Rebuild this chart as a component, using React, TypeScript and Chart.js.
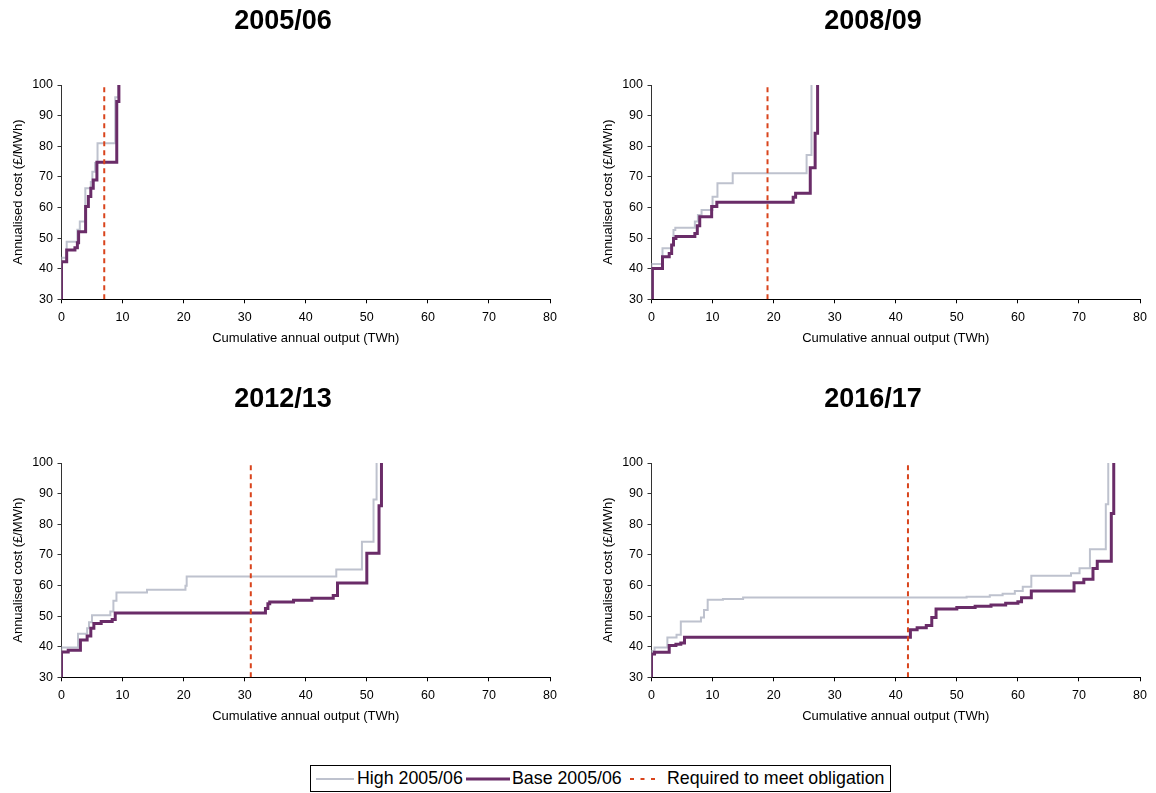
import { useEffect, useRef } from "react";
import { Chart, registerables } from "chart.js";

Chart.register(...registerables);

const FONT = "'Liberation Sans', Arial, Helvetica, sans-serif";

// Axis ranges and tick steps
const xRange = [0, 80];
const yRange = [30, 100];
const xStep = 10;
const yStep = 10;

const panelTitles = ["2005/06", "2008/09", "2012/13", "2016/17"];
const seriesLabels = ["High 2005/06", "Base 2005/06", "Required to meet obligation"];
const xAxisTitle = "Cumulative annual output (TWh)";
const yAxisTitle = "Annualised cost (£/MWh)";

// Output (TWh) required to meet the obligation in each year
const obligationTWh = [7.0, 19.0, 31.0, 42.0];

// Supply curves: each point is (cumulative TWh where the step starts, cost £/MWh)
// 2005/06
const high0506X = [0, 0, 0.85, 2.6, 3.0, 3.9, 4.8, 5.05, 5.5, 5.9, 8.8, 9.3];
const high0506Y = [30, 43.6, 48.8, 52.7, 55.4, 66.3, 68.3, 71.7, 74.5, 81.0, 96.0, 100];
const base0506X = [0, 0, 0.85, 2.2, 2.6, 2.8, 3.95, 4.4, 4.8, 5.2, 5.8, 9.05, 9.4];
const base0506Y = [30, 42.3, 46.1, 46.8, 48.5, 52.1, 60.3, 63.6, 66.3, 69.0, 74.8, 94.6, 100];

// 2008/09
const high0809X = [0, 0, 1.8, 3.3, 3.6, 3.9, 7.1, 7.6, 8.2, 10.0, 10.8, 13.3, 25.4, 26.2];
const high0809Y = [30, 41.5, 46.7, 47.7, 52.6, 53.4, 55.4, 57.5, 59.2, 63.5, 67.9, 71.2, 77.1, 100];
const base0809X = [0.15, 0.15, 1.8, 2.9, 3.3, 3.6, 4.0, 7.1, 7.5, 7.9, 9.85, 10.7, 23.2, 23.6, 26.0, 26.8, 27.2];
const base0809Y = [30, 40.1, 43.9, 45.0, 47.7, 49.9, 50.5, 51.5, 54.0, 57.0, 60.3, 61.7, 63.3, 64.6, 73.0, 84.2, 100];

// 2012/13
const high1213X = [0, 0, 2.7, 4.2, 4.5, 5.0, 8.0, 8.5, 9.0, 14.0, 20.3, 20.5, 45.0, 49.2, 51.1, 51.6];
const high1213Y = [30, 39.7, 44.2, 46.0, 48.0, 50.3, 51.5, 55.0, 57.7, 58.6, 59.9, 62.9, 65.2, 74.3, 88.1, 100];
const base1213X = [0, 0, 1.1, 3.1, 4.2, 4.8, 5.3, 6.5, 8.3, 8.8, 33.4, 33.8, 34.1, 38.0, 41.0, 44.5, 45.2, 50.0, 52.0, 52.4];
const base1213Y = [30, 38.3, 38.8, 42.2, 43.5, 46.0, 47.6, 48.2, 48.9, 51.0, 52.5, 54.0, 54.6, 55.2, 55.8, 56.7, 60.8, 70.5, 86.0, 100];

// 2016/17
const high1617X = [0, 0, 0.5, 2.6, 4.1, 4.8, 8.1, 8.6, 9.2, 11.7, 15.0, 51.6, 55.4, 57.5, 59.5, 60.8, 62.2, 68.7, 70.1, 71.8, 74.4, 74.8];
const high1617Y = [30, 38.6, 39.7, 43.0, 43.9, 48.2, 49.5, 52.0, 55.3, 55.6, 56.1, 56.3, 56.8, 57.3, 58.2, 59.6, 63.2, 64.0, 65.6, 71.8, 86.5, 100];
const base1617X = [0, 0, 0.5, 2.9, 4.0, 4.8, 5.4, 42.4, 43.5, 45.0, 45.9, 46.6, 50.0, 53.0, 55.6, 58.0, 60.0, 60.6, 62.2, 69.2, 70.8, 72.3, 73.0, 75.3, 75.7];
const base1617Y = [30, 37.6, 38.2, 40.4, 40.8, 41.2, 43.1, 45.5, 46.2, 46.9, 49.5, 52.3, 52.8, 53.2, 53.6, 54.2, 54.7, 56.0, 58.2, 60.9, 62.0, 65.5, 67.9, 83.5, 100];

const highX = [high0506X, high0809X, high1213X, high1617X];
const highY = [high0506Y, high0809Y, high1213Y, high1617Y];
const baseX = [base0506X, base0809X, base1213X, base1617X];
const baseY = [base0506Y, base0809Y, base1213Y, base1617Y];

const HIGH_COLOR = "#BEC2CE";
const BASE_COLOR = "#6A2C68";
const REQ_COLOR = "#D9441C";

const CANVAS_W = 566;
const CANVAS_H = 360;

const zip = (xs: number[], ys: number[]) => xs.map((x, i) => ({ x, y: ys[i] }));

function Panel({ idx, left, top }: { idx: number; left: number; top: number }) {
  const ref = useRef<HTMLCanvasElement>(null);

  useEffect(() => {
    const req = obligationTWh[idx];
    const chart = new Chart(ref.current!, {
      type: "line",
      data: {
        datasets: [
          {
            label: seriesLabels[0],
            data: zip(highX[idx], highY[idx]),
            borderColor: HIGH_COLOR,
            borderWidth: 2,
            stepped: true,
            pointRadius: 0,
            fill: false,
            order: 3,
          },
          {
            label: seriesLabels[1],
            data: zip(baseX[idx], baseY[idx]),
            borderColor: BASE_COLOR,
            borderWidth: 3,
            stepped: true,
            pointRadius: 0,
            fill: false,
            order: 2,
          },
          {
            label: seriesLabels[2],
            data: [
              { x: req, y: yRange[0] },
              { x: req, y: yRange[1] },
            ],
            borderColor: REQ_COLOR,
            borderWidth: 2,
            borderDash: [5, 4],
            pointRadius: 0,
            fill: false,
            order: 1,
          },
        ],
      },
      options: {
        animation: false,
        responsive: false,
        maintainAspectRatio: false,
        layout: { padding: 0 },
        plugins: {
          legend: { display: false },
          tooltip: { enabled: false },
          title: {
            display: true,
            text: panelTitles[idx],
            color: "#000",
            font: { family: FONT, size: 27, weight: "bold" },
            padding: { top: 5.8, bottom: 46.8 },
          },
        },
        scales: {
          x: {
            type: "linear",
            min: xRange[0],
            max: xRange[1],
            grid: { drawOnChartArea: false, drawTicks: true, tickLength: 4, color: "#000" },
            border: { display: true, color: "#000", width: 1 },
            ticks: {
              stepSize: xStep,
              padding: 7.2,
              color: "#000",
              maxRotation: 0,
              autoSkip: false,
              font: { family: FONT, size: 12.5 },
            },
            title: {
              display: true,
              text: xAxisTitle,
              color: "#000",
              font: { family: FONT, size: 13 },
              padding: { top: 0, bottom: 14.2 },
            },
            afterFit: (s: any) => {
              s.height = CANVAS_H - 299.3;
            },
          },
          y: {
            type: "linear",
            position: "left",
            min: yRange[0],
            max: yRange[1],
            grid: { drawOnChartArea: false, drawTicks: true, tickLength: 4, color: "#333" },
            border: { display: true, color: "#333", width: 1 },
            ticks: {
              stepSize: yStep,
              padding: 4.5,
              color: "#000",
              font: { family: FONT, size: 12.5 },
            },
            title: {
              display: true,
              text: yAxisTitle,
              color: "#000",
              font: { family: FONT, size: 13 },
              padding: { top: 10.2, bottom: 0 },
            },
            afterFit: (s: any) => {
              s.width = 61.5;
            },
          },
          pad: {
            type: "linear",
            position: "right",
            display: true,
            grid: { display: false, drawTicks: false },
            border: { display: false },
            ticks: { display: false },
            afterFit: (s: any) => {
              s.width = 16;
            },
          },
        },
      } as any,
    });
    return () => chart.destroy();
  }, [idx]);

  return (
    <canvas
      ref={ref}
      width={CANVAS_W}
      height={CANVAS_H}
      style={{ position: "absolute", left, top, width: CANVAS_W, height: CANVAS_H }}
    />
  );
}

function LegendSwatch({
  left,
  width,
  color,
  lineWidth,
  dash,
}: {
  left: number;
  width: number;
  color: string;
  lineWidth: number;
  dash?: string;
}) {
  return (
    <svg width={width} height={8} style={{ position: "absolute", left, top: 8.5, display: "block" }}>
      <line x1={0} y1={4} x2={width} y2={4} stroke={color} strokeWidth={lineWidth} strokeDasharray={dash} />
    </svg>
  );
}

function LegendText({ left, text }: { left: number; text: string }) {
  return (
    <div
      style={{
        position: "absolute",
        left,
        top: 0,
        height: 25,
        lineHeight: "25px",
        fontFamily: FONT,
        fontSize: 17.8,
        color: "#000",
        whiteSpace: "nowrap",
      }}
    >
      {text}
    </div>
  );
}

export default function App() {
  return (
    <div
      style={{
        position: "absolute",
        left: 0,
        top: 0,
        width: 1156,
        height: 793,
        background: "#fff",
        overflow: "hidden",
      }}
    >
      <Panel idx={0} left={0} top={0} />
      <Panel idx={1} left={590} top={0} />
      <Panel idx={2} left={0} top={378} />
      <Panel idx={3} left={590} top={378} />
      <div
        style={{
          position: "absolute",
          left: 310,
          top: 765,
          width: 581,
          height: 27,
          boxSizing: "border-box",
          border: "1px solid #000",
        }}
      >
        <LegendSwatch left={5} width={38} color={HIGH_COLOR} lineWidth={2} />
        <LegendText left={46} text={seriesLabels[0]} />
        <LegendSwatch left={155} width={44} color={BASE_COLOR} lineWidth={3} />
        <LegendText left={201} text={seriesLabels[1]} />
        <LegendSwatch left={319} width={25} color={REQ_COLOR} lineWidth={2} dash="4 6.5" />
        <LegendText left={356} text={seriesLabels[2]} />
      </div>
    </div>
  );
}
